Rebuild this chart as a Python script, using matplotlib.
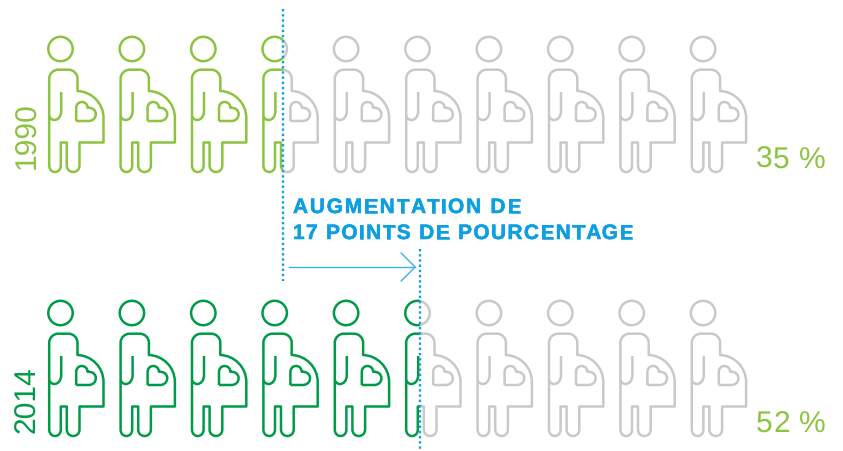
import matplotlib
matplotlib.use("Agg")
import matplotlib.pyplot as plt
import matplotlib.patheffects as pe
from matplotlib.font_manager import FontProperties
from matplotlib.patches import Circle, PathPatch, Rectangle
from matplotlib.path import Path as MPath

plt.rcParams["text.hinting"] = "no_hinting"
plt.rcParams["text.hinting_factor"] = 1

years = ["1990", "2014"]
percent = [35, 52]
percent_labels = ["35 %", "52 %"]
n_icons = 10
callout = ["AUGMENTATION DE", "17 POINTS DE POURCENTAGE"]

row_colors = ["#8CC440", "#009B48"]
GREY = "#C9C9C9"
BLUE = "#0E9FE3"

W, H = 843, 451
ICON_X0 = 60.5
ICON_STEP = 71.4
ROW_Y = [49, 313]
# percent to pixel scale, fitted on the two dotted lines
PX_PER_POINT = 8.06
PX_ZERO = 1.0
K = 0.55


def build(start, segments):
    # segments are (x, y) lines or (c1, c2, end) cubic curves
    verts, codes = [start], [MPath.MOVETO]
    for seg in segments:
        if len(seg) == 2:
            verts.append(seg)
            codes.append(MPath.LINETO)
        else:
            verts.extend(seg)
            codes.extend([MPath.CURVE4] * 3)
    return MPath(verts, codes)


def body_path():
    r = 9.0
    return build((-11.3, 84), [
        (-11.3, 20.7 + r),
        ((-11.3, 20.7 + r * (1 - K)), (-11.3 + r * (1 - K), 20.7), (-11.3 + r, 20.7)),
        (17 - r, 20.7),
        ((17 - r * (1 - K), 20.7), (17, 20.7 + r * (1 - K)), (17, 20.7 + r)),
        (17, 42),
        ((31, 42.5), (43, 54), (43, 69)),
        (43, 93.5),
        (19, 93.5),
        (19, 116.5),
        ((19, 120.5), (16.2, 123), (12.7, 123)),
        ((9.2, 123), (6.3, 120.5), (6.3, 116.5)),
        (6.3, 93.5),
        (0.3, 93.5),
        (0.3, 116.5),
        ((0.3, 120.5), (-2.2, 123), (-5.5, 123)),
        ((-8.8, 123), (-11.3, 120.5), (-11.3, 116.5)),
        (-11.3, 84),
    ])


def arm_path():
    return build((0.7, 43), [
        (0.7, 62),
        ((0.7, 67.5), (-2.5, 71), (-6, 71)),
        ((-8.5, 71), (-10.5, 69.5), (-11.3, 67)),
    ])


def heart_path():
    return build((15.7, 72), [
        (15.7, 59),
        ((15.7, 55.5), (18, 53), (21.3, 53)),
        ((24.8, 53), (27, 55.5), (27, 58.7)),
        ((32, 58.5), (35.3, 61), (35.3, 65.2)),
        ((35.3, 69.5), (32, 72), (28, 72)),
        (15.7, 72),
    ])


def draw_icon(ax, cx, cy, color, clip):
    shapes = [Circle((cx, cy), 12.2)]
    for p in (body_path(), arm_path(), heart_path()):
        shapes.append(PathPatch(MPath(p.vertices + [cx, cy], p.codes)))
    for s in shapes:
        s.set(facecolor="none", edgecolor=color, linewidth=1.8, joinstyle="round", capstyle="butt")
        ax.add_patch(s)
        s.set_clip_path(clip)


def spaced_text(ax, x, y, text, spacing, **kw):
    # matplotlib has no letter spacing, so place the glyphs one at a time
    renderer = ax.figure.canvas.get_renderer()
    fp = FontProperties(family=kw["family"], size=kw["fontsize"], weight=kw.get("fontweight", "normal"))
    for i, ch in enumerate(text):
        w = renderer.get_text_width_height_descent(text[:i], fp, False)[0] if i else 0
        ax.text(x + w + i * spacing, y, ch, ha="left", va="baseline", **kw)


fig = plt.figure(figsize=(W / 100, H / 100), dpi=100)
ax = fig.add_axes([0, 0, 1, 1])
ax.set_xlim(0, W)
ax.set_ylim(H, 0)
ax.axis("off")

for year, pct, label, color, y0 in zip(years, percent, percent_labels, row_colors, ROW_Y):
    split = PX_ZERO + pct * PX_PER_POINT
    left = Rectangle((0, y0 - 30), split, 170, transform=ax.transData)
    right = Rectangle((split, y0 - 30), W - split, 170, transform=ax.transData)
    for i in range(n_icons):
        cx = ICON_X0 + i * ICON_STEP
        draw_icon(ax, cx, y0, color, left)
        draw_icon(ax, cx, y0, GREY, right)
    ax.text(35, y0 + 120, year, rotation=90, color=color, fontsize=21.5, family="Liberation Sans",
            ha="left", va="baseline", rotation_mode="anchor")
    spaced_text(ax, 756, y0 + 119, label, 0.4, color=row_colors[0], fontsize=21.5, family="Liberation Sans")

# dotted guides
split_a = PX_ZERO + percent[0] * PX_PER_POINT
split_b = PX_ZERO + percent[1] * PX_PER_POINT
ax.plot([split_a, split_a], [9, 281], color=BLUE, lw=1.7, ls=(0, (1, 1.2)), zorder=5)
ax.plot([split_b, split_b], [249, 451], color=BLUE, lw=1.7, ls=(0, (1, 1.2)), zorder=5)

# arrow
ax.plot([split_a + 6, split_b - 5], [267, 267], color="#3FB0EA", lw=1.0)
ax.plot([split_b - 19, split_b - 5, split_b - 19], [253, 267, 281], color="#3FB0EA", lw=1.0)

for line, y, gap in zip(callout, [213, 239], [1.7, 1.3]):
    spaced_text(ax, 293, y, line, gap, color=BLUE, fontsize=15, fontweight="bold", family="Liberation Sans",
                path_effects=[pe.withStroke(linewidth=0.4, foreground=BLUE)])

fig.savefig("out.png", dpi=100)
